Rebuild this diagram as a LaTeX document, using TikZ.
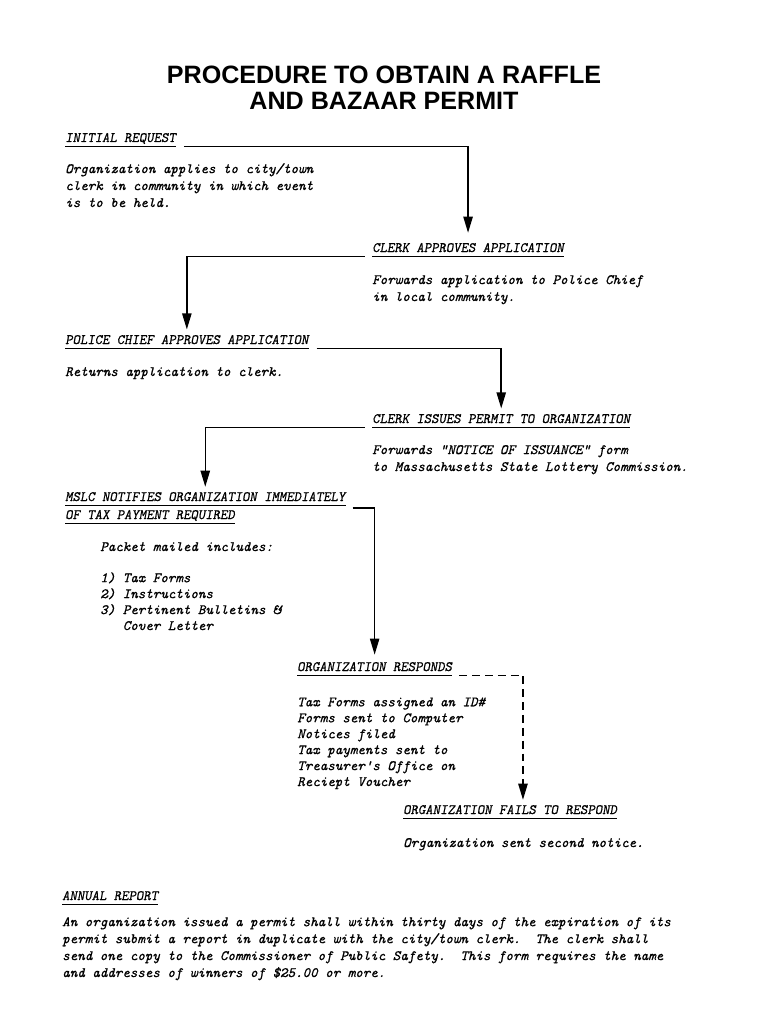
\documentclass[tikz,border=0pt]{standalone}
\usepackage{fontspec}
\newfontfamily\titlefont{Liberation Sans}
\newfontfamily\headfont{Latin Modern Mono}[FakeSlant=0.18, FakeBold=0.8]
\newfontfamily\bodyfont{lmmono10-italic.otf}[FakeBold=0.8]
\usetikzlibrary{arrows.meta}

\begin{document}
\begin{tikzpicture}[x=0.028cm, y=-0.028cm, >={Triangle[length=4.5mm, width=2.6mm]},
    ttl/.style={font=\titlefont\bfseries\fontsize{20}{20.7}\selectfont, align=center},
    uline/.style={line width=0.9pt},
    head/.style={anchor=base west, inner sep=0pt,
        font=\headfont\frenchspacing\fontsize{11.4}{13.5}\selectfont,
        append after command={([yshift=-1.3mm]\tikzlastnode.base west)
            edge[uline] ([yshift=-1.3mm]\tikzlastnode.base east)}},
    body/.style={anchor=base west, inner sep=0pt, align=left,
        font=\bodyfont\frenchspacing\fontsize{11.4}{13.5}\selectfont},
    list/.style={body, font=\bodyfont\fontsize{11.4}{12.7}\selectfont},
    flow/.style={->, line width=1.2pt},
    noflow/.style={->, line width=1.2pt, dash pattern=on 2.2mm off 1.4mm},
]

    \fill[white] (0,0) rectangle (770,1024);

    \node[ttl] (title) at (384,88) {PROCEDURE TO OBTAIN A RAFFLE\\AND BAZAAR PERMIT};

    % multi-line texts sit on their last baseline
    \node[head] (initial) at (65,142) {INITIAL REQUEST};
    \node[body] (apply)   at (65,207) {Organization applies to city/town\\clerk in community in which event\\is to be held.};

    \node[head] (clerkok) at (372,252) {CLERK APPROVES APPLICATION};
    \node[body] (fwd)     at (372,301) {Forwards application to Police Chief\\in local community.};

    \node[head] (police)  at (65,344) {POLICE CHIEF APPROVES APPLICATION};
    \node[body] (ret)     at (65,376) {Returns application to clerk.};

    \node[head] (issue)   at (372,423) {CLERK ISSUES PERMIT TO ORGANIZATION};
    \node[body] (notice)  at (372,471) {Forwards "NOTICE OF ISSUANCE" form\\to Massachusetts State Lottery Commission.};

    \node[head] (mslc)    at (65,501) {MSLC NOTIFIES ORGANIZATION IMMEDIATELY};
    \node[head] (mslctax) at (65,519) {OF TAX PAYMENT REQUIRED};
    \node[body] (packet)  at (100,551) {Packet mailed includes:};
    \node[list] (items)   at (100,630) {1) Tax Forms\\2) Instructions\\3) Pertinent Bulletins \&\\\phantom{3)~}Cover Letter};

    \node[head] (responds) at (297,671) {ORGANIZATION RESPONDS};
    \node[list] (filed)    at (297,786) {Tax Forms assigned an ID\#\\Forms sent to Computer\\Notices filed\\Tax payments sent to\\Treasurer's Office on\\Reciept Voucher};

    \node[head] (fails)   at (403,814) {ORGANIZATION FAILS TO RESPOND};
    \node[body] (second)  at (403,847) {Organization sent second notice.};

    \node[head] (annual)  at (62,900) {ANNUAL REPORT};
    \node[body] (report)  at (62,977) {An organization issued a permit shall within thirty days of the expiration of its\\permit submit a report in duplicate with the city/town clerk.\ \ The clerk shall\\send one copy to the Commissioner of Public Safety.\ \ This form requires the name\\and addresses of winners of \$25.00 or more.};

    \draw[flow] ([xshift=2.2mm, yshift=-1.3mm]initial.base east) -| ([yshift=2.8mm]clerkok.north);
    \draw[flow] ([xshift=-2mm, yshift=-1.3mm]clerkok.base west) -| ([yshift=1.5mm]police.north);
    \draw[flow] ([xshift=2.2mm, yshift=-1.3mm]police.base east) -| ([yshift=1.5mm]issue.north);
    \draw[flow] ([xshift=-2mm, yshift=-1.3mm]issue.base west) -| ([yshift=1.4mm]mslc.north);
    \draw[flow] ([xshift=2mm, yshift=-2mm]mslc.base east) -| ([yshift=2mm]responds.north);
    \draw[noflow] ([xshift=2mm, yshift=-1.3mm]responds.base east) -| ([xshift=3.6mm, yshift=1.4mm]fails.north);

\end{tikzpicture}
\end{document}
